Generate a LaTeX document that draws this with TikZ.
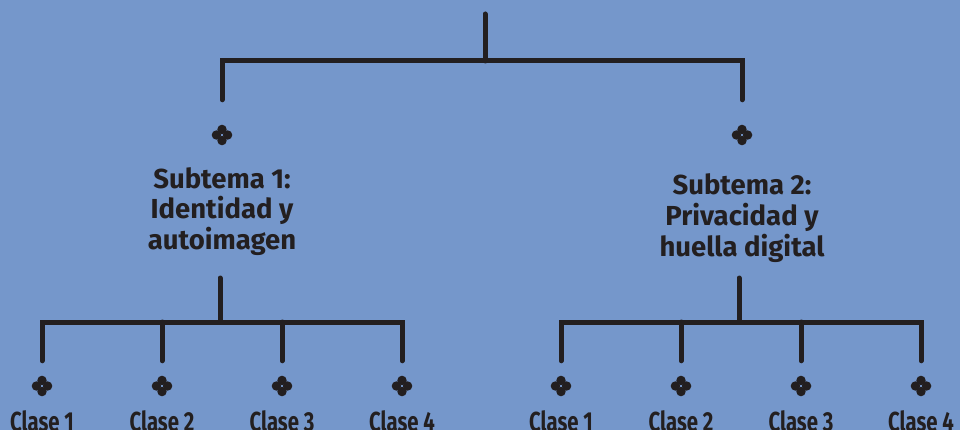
\documentclass[tikz,border=0pt]{standalone}
\usepackage{fontspec}
\setmainfont{Fira Sans}
\newfontfamily\clasefont[FakeStretch=0.74]{Fira Sans}
\usepackage{tikz}
\usetikzlibrary{positioning}
\definecolor{fondo}{RGB}{117,151,203}
\definecolor{tinta}{RGB}{35,31,32}

\tikzset{
  rama/.style={tinta, line width=5pt, line cap=round, line join=miter},
  flor/.style={minimum size=22pt, inner sep=0pt, path picture={
      \fill[tinta] (path picture bounding box.center) ++(5.6pt,0) circle (4.7pt)
        (path picture bounding box.center) ++(-5.6pt,0) circle (4.7pt)
        (path picture bounding box.center) ++(0,5.6pt) circle (4.7pt)
        (path picture bounding box.center) ++(0,-5.6pt) circle (4.7pt);}},
  subtema/.style={tinta, align=center, anchor=base, inner sep=0pt,
      font=\fontsize{27.5}{31}\selectfont\bfseries},
  clase/.style={tinta, anchor=base, inner sep=0pt,
      font=\clasefont\fontsize{27.5}{31}\selectfont\bfseries}
}

\begin{document}
\begin{tikzpicture}[x=1pt, y=-1pt]
    \fill[fondo] (0,0) rectangle (960,430);
    \useasboundingbox (0,0) rectangle (960,430);
    % tronco principal
    \coordinate (raiz) at (485,14);
    \coordinate (barra) at (485,61);
    \node[flor] (fA) at (222,135) {};
    \node[flor] (fB) at (742,135) {};
    \draw[rama] (raiz) -- (barra);
    \draw[rama] ([yshift=24pt]fA.north) -- (fA |- barra) -- (fB |- barra) -- ([yshift=24pt]fB.north);
    % subtemas
    \node[subtema] (sA) at (222,250) {Subtema 1:\\Identidad y\\autoimagen};
    \node[subtema] (sB) at (742,256) {Subtema 2:\\Privacidad y\\huella digital};
    % clases
    \coordinate (raizA) at (220,278); \coordinate (barraA) at (220,322);
    \coordinate (raizB) at (739,278); \coordinate (barraB) at (739,322);
    \foreach \i/\x in {1/42,2/162,3/282,4/402} {
        \node[flor] (fA\i) at (\x,386) {};
        \node[clase] (cA\i) at (\x,431) {Clase \i};
    }
    \foreach \i/\x in {1/561,2/681,3/801,4/921} {
        \node[flor] (fB\i) at (\x,386) {};
        \node[clase] (cB\i) at (\x,431) {Clase \i};
    }
    \foreach \s in {A,B} {
        \draw[rama] (raiz\s) -- (barra\s);
        \draw[rama] ([yshift=14pt]f\s1.north) -- (f\s1 |- barra\s) -- (f\s4 |- barra\s) -- ([yshift=14pt]f\s4.north);
        \foreach \i in {2,3} {\draw[rama] (f\s\i |- barra\s) -- ([yshift=14pt]f\s\i.north);}
    }
\end{tikzpicture}
\end{document}
